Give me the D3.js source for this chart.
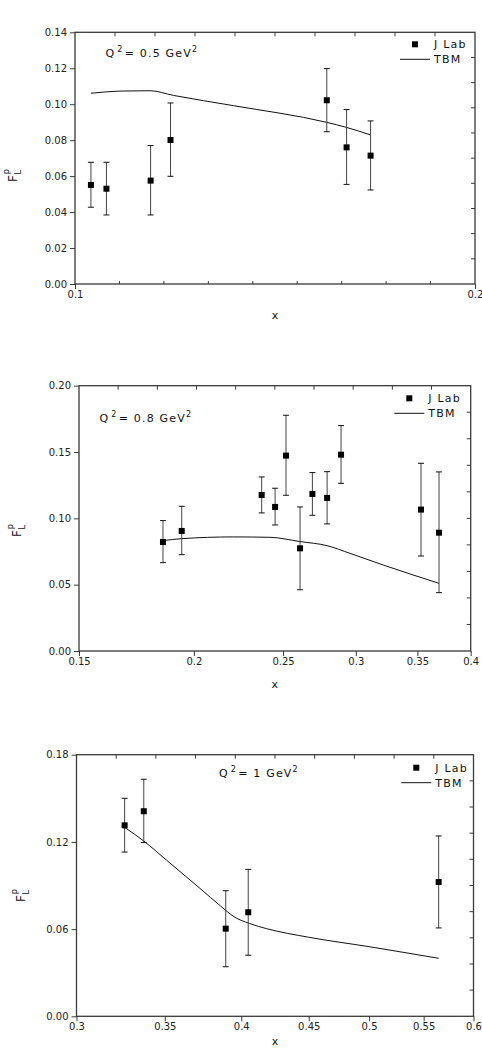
<!DOCTYPE html>
<html>
<head>
<meta charset="utf-8">
<script src="https://cdn.jsdelivr.net/npm/d3@7"></script>
<style>
  html, body { margin: 0; padding: 0; background: #fff; }
  svg { display: block; font-family: "DejaVu Sans", sans-serif; }
</style>
</head>
<body>
<svg id="chart" width="482" height="1050"></svg>
<script>
// ---------- Panel 1 : Q^2 = 0.5 GeV^2 ----------
const p1X      = [0.1028, 0.1056, 0.1140, 0.1180, 0.1547, 0.1601, 0.1669];
const p1Y      = [0.0551, 0.0530, 0.0575, 0.0801, 0.1022, 0.0760, 0.0714];
const p1Hi     = [0.0677, 0.0677, 0.0770, 0.1007, 0.1198, 0.0970, 0.0907];
const p1Lo     = [0.0427, 0.0384, 0.0384, 0.0599, 0.0847, 0.0554, 0.0523];
const p1TbmX   = [0.1028, 0.1081, 0.1139, 0.1186, 0.1316, 0.1547, 0.1601, 0.1669];
const p1TbmY   = [0.1061, 0.1073, 0.1075, 0.1049, 0.0992, 0.0899, 0.0871, 0.0829];
const p1YTicks = [0, 0.02, 0.04, 0.06, 0.08, 0.10, 0.12, 0.14];
const p1YLabels= ["0.00","0.02","0.04","0.06","0.08","0.10","0.12","0.14"];
const p1XTicks = [0.1, 0.2];
const p1XLabels= ["0.1", "0.2"];

// ---------- Panel 2 : Q^2 = 0.8 GeV^2 ----------
const p2X      = [0.1851, 0.1940, 0.2370, 0.2451, 0.2519, 0.2609, 0.2691, 0.2792, 0.2891, 0.3532, 0.3695];
const p2Y      = [0.0822, 0.0905, 0.1176, 0.1086, 0.1473, 0.0774, 0.1184, 0.1154, 0.1480, 0.1066, 0.0892];
const p2Hi     = [0.0983, 0.1091, 0.1312, 0.1227, 0.1777, 0.1086, 0.1345, 0.1352, 0.1699, 0.1415, 0.1350];
const p2Lo     = [0.0666, 0.0726, 0.1041, 0.0950, 0.1174, 0.0462, 0.1023, 0.0958, 0.1264, 0.0716, 0.0440];
const p2TbmX   = [0.1851, 0.1940, 0.2208, 0.2420, 0.2609, 0.2792, 0.2957, 0.3214, 0.3695];
const p2TbmY   = [0.0832, 0.0847, 0.0860, 0.0857, 0.0825, 0.0794, 0.0736, 0.0648, 0.0510];
const p2YTicks = [0, 0.05, 0.10, 0.15, 0.20];
const p2YLabels= ["0.00","0.05","0.10","0.15","0.20"];
const p2XTicks = [0.15, 0.2, 0.25, 0.3, 0.35, 0.4];
const p2XLabels= ["0.15","0.2","0.25","0.3","0.35","0.4"];

// ---------- Panel 3 : Q^2 = 1 GeV^2 ----------
const p3X      = [0.3263, 0.3374, 0.3893, 0.4049, 0.5646];
const p3Y      = [0.1314, 0.1411, 0.0603, 0.0716, 0.0924];
const p3Hi     = [0.1500, 0.1631, 0.0864, 0.1011, 0.1241];
const p3Lo     = [0.1130, 0.1195, 0.0341, 0.0420, 0.0608];
const p3TbmX   = [0.3263, 0.3374, 0.3512, 0.3722, 0.3860, 0.3950, 0.4060, 0.4181, 0.45, 0.5, 0.5646];
const p3TbmY   = [0.1300, 0.1206, 0.1073, 0.0880, 0.0757, 0.0685, 0.0638, 0.0603, 0.0544, 0.0479, 0.0399];
const p3YTicks = [0, 0.06, 0.12, 0.18];
const p3YLabels= ["0.00","0.06","0.12","0.18"];
const p3XTicks = [0.3, 0.35, 0.4, 0.45, 0.5, 0.55, 0.6];
const p3XLabels= ["0.3","0.35","0.4","0.45","0.5","0.55","0.6"];

const legendLabels = ["J Lab", "TBM"];
const xTitle = "x";

const svg = d3.select("#chart");
const AX = "#3a3a3a";

function drawPanel(cfg) {
  const g = svg.append("g");
  const x = d3.scaleLog().domain(cfg.xDomain).range([cfg.left, cfg.right]);
  const y = d3.scaleLinear().domain(cfg.yDomain).range([cfg.bottom, cfg.top]);

  // frame ticks: top & right (10 uniform inward ticks)
  const topT = d3.range(1, 10).map(i => cfg.left + (cfg.right - cfg.left) * i / 10);
  g.selectAll(".tt").data(topT).join("line")
    .attr("x1", d => d).attr("x2", d => d)
    .attr("y1", cfg.top).attr("y2", cfg.top + 4)
    .attr("stroke", AX).attr("stroke-width", 1);
  const rightT = d3.range(1, 10).map(i => cfg.top + (cfg.bottom - cfg.top) * i / 10);
  g.selectAll(".rt").data(rightT).join("line")
    .attr("x1", cfg.right - 4).attr("x2", cfg.right)
    .attr("y1", d => d).attr("y2", d => d)
    .attr("stroke", AX).attr("stroke-width", 1);

  // left axis
  const yAxis = d3.axisLeft(y).tickValues(cfg.yTicks)
    .tickFormat((d, i) => cfg.yLabels[i]).tickSize(5).tickPadding(3);
  const ya = g.append("g").attr("transform", `translate(${cfg.left},0)`).call(yAxis);
  ya.select(".domain").remove();
  ya.selectAll(".tick line").attr("stroke", AX);
  ya.selectAll(".tick text").attr("font-size", 10).attr("fill", "#222")
    .attr("font-family", "DejaVu Sans");

  // bottom axis
  const xAxis = d3.axisBottom(x).tickValues(cfg.xTicks)
    .tickFormat((d, i) => cfg.xLabels[i]).tickSize(5).tickPadding(2);
  const xa = g.append("g").attr("transform", `translate(0,${cfg.bottom})`).call(xAxis);
  xa.select(".domain").remove();
  xa.selectAll(".tick line").attr("stroke", AX);
  xa.selectAll(".tick text").attr("font-size", 10).attr("fill", "#222")
    .attr("font-family", "DejaVu Sans");

  if (cfg.minorBottom) {
    const mt = d3.range(1, 9).map(i => cfg.left + (cfg.right - cfg.left) * i / 9);
    g.selectAll(".mb").data(mt).join("line")
      .attr("x1", d => d).attr("x2", d => d)
      .attr("y1", cfg.bottom - 3).attr("y2", cfg.bottom)
      .attr("stroke", AX).attr("stroke-width", 1);
  }

  // frame
  g.append("rect").attr("x", cfg.left).attr("y", cfg.top)
    .attr("width", cfg.right - cfg.left).attr("height", cfg.bottom - cfg.top)
    .attr("fill", "none").attr("stroke", AX).attr("stroke-width", 1.3);

  // TBM line
  const tbm = cfg.tbmX.map((d, i) => [d, cfg.tbmY[i]]);
  g.append("path").datum(tbm)
    .attr("d", d3.line().x(d => x(d[0])).y(d => y(d[1])).curve(d3.curveMonotoneX))
    .attr("fill", "none").attr("stroke", "#111").attr("stroke-width", 1);

  // error bars
  const pts = cfg.dx.map((d, i) => ({x: d, y: cfg.dy[i], hi: cfg.hi[i], lo: cfg.lo[i]}));
  const eb = g.append("g");
  eb.selectAll(".ev").data(pts).join("line")
    .attr("x1", d => x(d.x)).attr("x2", d => x(d.x))
    .attr("y1", d => y(d.hi)).attr("y2", d => y(d.lo))
    .attr("stroke", "#444").attr("stroke-width", 1);
  eb.selectAll(".ch").data(pts).join("line")
    .attr("x1", d => x(d.x) - 3).attr("x2", d => x(d.x) + 3)
    .attr("y1", d => y(d.hi)).attr("y2", d => y(d.hi))
    .attr("stroke", "#111").attr("stroke-width", 1);
  eb.selectAll(".cl").data(pts).join("line")
    .attr("x1", d => x(d.x) - 3).attr("x2", d => x(d.x) + 3)
    .attr("y1", d => y(d.lo)).attr("y2", d => y(d.lo))
    .attr("stroke", "#111").attr("stroke-width", 1);

  // markers
  g.selectAll(".pt").data(pts).join("rect")
    .attr("x", d => x(d.x) - 3).attr("y", d => y(d.y) - 3)
    .attr("width", 6).attr("height", 6).attr("fill", "#000");

  // annotation Q^2 = ... GeV^2
  const ann = g.append("text").attr("x", cfg.annX).attr("y", cfg.annY)
    .attr("font-size", 11).attr("fill", "#111").attr("letter-spacing", 1.2);
  ann.append("tspan").text("Q");
  ann.append("tspan").attr("font-size", 8).attr("dy", -5).attr("dx", 2).text("2");
  ann.append("tspan").attr("dy", 5).attr("dx", 1).text("= " + cfg.qval + " GeV");
  ann.append("tspan").attr("font-size", 8).attr("dy", -5).text("2");

  // legend
  const lx = cfg.legX, ly = cfg.legY;
  g.append("rect").attr("x", lx - 3).attr("y", ly - 3).attr("width", 6).attr("height", 6).attr("fill", "#000");
  g.append("text").attr("x", lx + 19).attr("y", ly + 4).attr("font-size", 11)
    .attr("letter-spacing", 1.2).attr("fill", "#111").text(legendLabels[0]);
  g.append("line").attr("x1", lx - 15).attr("x2", lx + 15)
    .attr("y1", ly + 15).attr("y2", ly + 15).attr("stroke", "#111").attr("stroke-width", 1);
  g.append("text").attr("x", lx + 19).attr("y", ly + 19).attr("font-size", 11)
    .attr("letter-spacing", 1.2).attr("fill", "#111").text(legendLabels[1]);

  // x title
  g.append("text").attr("x", (cfg.left + cfg.right) / 2).attr("y", cfg.xTitleY)
    .attr("text-anchor", "middle").attr("font-size", 11).attr("fill", "#111").text(xTitle);

  // y title F_L^p (rotated)
  const yt = g.append("text")
    .attr("transform", `translate(${cfg.yTitleX},${cfg.yTitleY}) rotate(-90)`)
    .attr("font-size", 12).attr("fill", "#111");
  yt.append("tspan").text("F");
  yt.append("tspan").attr("font-size", 8).attr("dy", 4).attr("dx", 0.5).text("L");
  yt.append("tspan").attr("font-size", 8).attr("dy", -12).attr("dx", -4).text("p");
}

drawPanel({
  left: 75, right: 475, top: 32.3, bottom: 284,
  xDomain: [0.1, 0.2], yDomain: [0, 0.14],
  xTicks: p1XTicks, xLabels: p1XLabels, yTicks: p1YTicks, yLabels: p1YLabels,
  minorBottom: true,
  dx: p1X, dy: p1Y, hi: p1Hi, lo: p1Lo, tbmX: p1TbmX, tbmY: p1TbmY,
  qval: "0.5", annX: 105.5, annY: 57,
  legX: 415, legY: 44.3, xTitleY: 319, yTitleX: 17, yTitleY: 182
});
drawPanel({
  left: 79, right: 470.7, top: 385.7, bottom: 651,
  xDomain: [0.15, 0.4], yDomain: [0, 0.2],
  xTicks: p2XTicks, xLabels: p2XLabels, yTicks: p2YTicks, yLabels: p2YLabels,
  minorBottom: false,
  dx: p2X, dy: p2Y, hi: p2Hi, lo: p2Lo, tbmX: p2TbmX, tbmY: p2TbmY,
  qval: "0.8", annX: 99.5, annY: 421.5,
  legX: 409.3, legY: 398.3, xTitleY: 688, yTitleX: 21, yTitleY: 537
});
drawPanel({
  left: 76.5, right: 473.5, top: 754.7, bottom: 1016.3,
  xDomain: [0.3, 0.6], yDomain: [0, 0.18],
  xTicks: p3XTicks, xLabels: p3XLabels, yTicks: p3YTicks, yLabels: p3YLabels,
  minorBottom: false,
  dx: p3X, dy: p3Y, hi: p3Hi, lo: p3Lo, tbmX: p3TbmX, tbmY: p3TbmY,
  qval: "1", annX: 219, annY: 777,
  legX: 416.3, legY: 767.7, xTitleY: 1045, yTitleX: 25, yTitleY: 902
});
</script>
</body>
</html>
